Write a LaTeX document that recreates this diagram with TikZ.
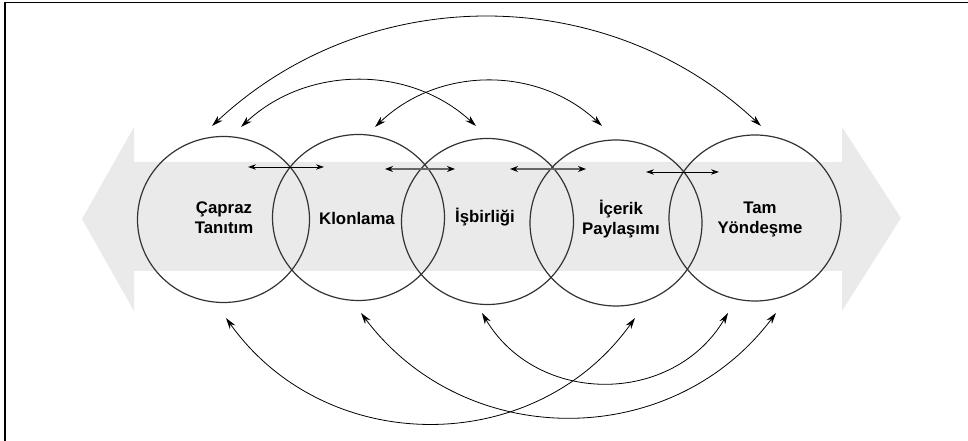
\documentclass[tikz,border=0pt]{standalone}
\usepackage{fontspec}
\setmainfont{Liberation Sans}
\usetikzlibrary{arrows.meta,shapes.geometric}
\definecolor{bandgray}{HTML}{EAEAEA}
\definecolor{ringgray}{HTML}{333333}
\definecolor{midgray}{HTML}{666666}
\tikzset{
  ring/.style={ellipse, draw=ringgray, line width=0.9pt, minimum width=129pt, minimum height=124.5pt, inner sep=0pt},
  lbl/.style={font=\bfseries\fontsize{12.6}{14.8}\selectfont, align=center, inner sep=0pt},
  bigarc/.style={draw=black, line width=0.6pt, {Stealth[length=8.5pt,width=5pt]}-{Stealth[length=8.5pt,width=5pt]}},
  shortlink/.style={draw=black, line width=0.6pt, {Stealth[length=6pt,width=4pt]}-{Stealth[length=6pt,width=4pt]}},
  graylink/.style={draw=midgray, line width=1.4pt, {Stealth[length=6pt,width=4.5pt,color=black]}-{Stealth[length=6pt,width=4.5pt,color=black]}}
}
\begin{document}
\begin{tikzpicture}[x=0.75pt,y=-0.75pt]
\useasboundingbox (0,0) rectangle (968,441);
% frame
\draw[line width=1.6pt] (5,441) -- (5,2.7);
\draw[line width=1.2pt] (4.2,2.7) -- (968,2.7);
% background double arrow
\fill[bandgray] (82,219) -- (134,127) -- (134,162) -- (842,162) -- (842,127) -- (901,218)
  -- (842,311) -- (842,271) -- (134,271) -- (134,311) -- cycle;
% rings
\node[ring] (c1) at (223.5,219.5) {};
\node[ring] (c2) at (358.5,217.5) {};
\node[ring] (c3) at (487.5,221.5) {};
\node[ring] (c4) at (616,223) {};
\node[ring] (c5) at (755,218) {};
% labels
\node[lbl] (t1) at (224,217.5) {Çapraz\\Tanıtım};
\node[lbl] (t2) at (357,218) {Klonlama};
\node[lbl] (t3) at (485,217) {İşbirliği};
\node[lbl] (t4) at (621,219) {İçerik\\Paylaşımı};
\node[lbl] (t5) at (760,219.5) {Tam\\Yöndeşme};
% short double arrows
\coordinate (s1a) at (248,167); \coordinate (s1b) at (324,167);
\coordinate (s2a) at (385,169); \coordinate (s2b) at (455,169);
\coordinate (s3a) at (510,169); \coordinate (s3b) at (586,169);
\coordinate (s4a) at (646,172); \coordinate (s4b) at (719,172);
\draw[shortlink] (s1a) -- (s1b);
\draw[graylink] (s2a) -- (s2b);
\draw[graylink] (s3a) -- (s3b);
\draw[shortlink] (s4a) -- (s4b);
% top arcs
\coordinate (ua1) at (212,126); \coordinate (ua2) at (761,126);
\coordinate (ub1) at (241,127); \coordinate (ub2) at (476,126);
\coordinate (uc1) at (375,127); \coordinate (uc2) at (602,126);
\draw[bigarc] (ua1) .. controls (367,-19) and (606,-19) .. (ua2);
\draw[bigarc] (ub1) .. controls (307,65) and (410,65) .. (ub2);
\draw[bigarc] (uc1) .. controls (439,66) and (538,66) .. (uc2);
% bottom arcs
\coordinate (ld1) at (226,318); \coordinate (ld2) at (635,318);
\coordinate (le1) at (361,313); \coordinate (le2) at (776,313);
\coordinate (lf1) at (482,313); \coordinate (lf2) at (728,313);
\draw[bigarc] (ld1) .. controls (326,458) and (535,458) .. (ld2);
\draw[bigarc] (le1) .. controls (465,451.5) and (672,451.5) .. (le2);
\draw[bigarc] (lf1) .. controls (537,406) and (673,406) .. (lf2);
\end{tikzpicture}
\end{document}
